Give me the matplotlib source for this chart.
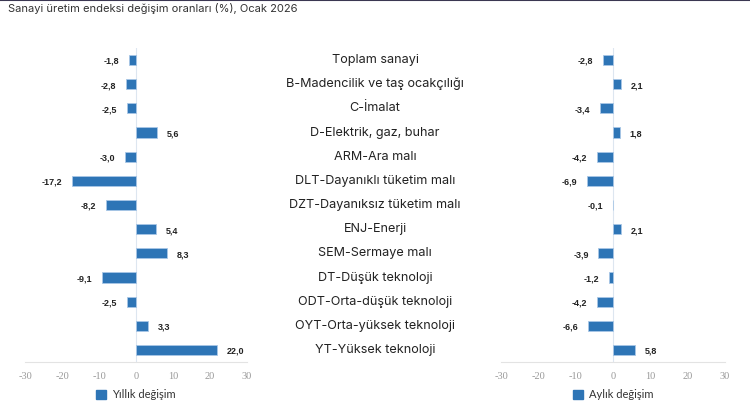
import numpy as np
import matplotlib
matplotlib.use("Agg")
import matplotlib.pyplot as plt
from matplotlib.patches import Patch
from matplotlib.lines import Line2D

kategoriler = ["Toplam sanayi", "B-Madencilik ve taş ocakçılığı", "C-İmalat",
               "D-Elektrik, gaz, buhar", "ARM-Ara malı", "DLT-Dayanıklı tüketim malı",
               "DZT-Dayanıksız tüketim malı", "ENJ-Enerji", "SEM-Sermaye malı",
               "DT-Düşük teknoloji", "ODT-Orta-düşük teknoloji",
               "OYT-Orta-yüksek teknoloji", "YT-Yüksek teknoloji"]
yillik = [-1.8, -2.8, -2.5, 5.6, -3.0, -17.2, -8.2, 5.4, 8.3, -9.1, -2.5, 3.3, 22.0]
aylik = [-2.8, 2.1, -3.4, 1.8, -4.2, -6.9, -0.1, 2.1, -3.9, -1.2, -4.2, -6.6, 5.8]
ticks = [-30, -20, -10, 0, 10, 20, 30]

MAVI = "#2e75b6"
W, H = 750, 411

fig = plt.figure(figsize=(7.5, 4.11), dpi=100)
fig.patch.set_facecolor("white")

# ust kenardaki koyu cizgi
fig.add_artist(Line2D([0, 1], [0.999, 0.999], transform=fig.transFigure,
                      color="#3b3752", lw=1.5))

fig.text(8 / W, 1 - 9 / H, "Sanayi üretim endeksi değişim oranları (%), Ocak 2026",
         fontsize=8, color="#333333", family="Inter", va="center", ha="left")


def ciz(ax, vals, etiket):
    y = np.arange(len(vals))
    ax.barh(y, vals, height=0.42, color=MAVI, edgecolor="#a9c7e6", linewidth=0.6)
    ax.set_ylim(len(vals) - 0.5, -0.5)
    ax.set_xlim(-30, 30)
    ax.set_xticks(ticks)
    ax.set_xticklabels([str(t) for t in ticks], fontsize=7.5, color="#999999",
                       family="Liberation Serif")
    ax.tick_params(axis="x", length=0, pad=7)
    ax.set_yticks([])
    for s in ["top", "left", "right"]:
        ax.spines[s].set_visible(False)
    ax.spines["bottom"].set_color("#e3e3e3")
    ax.spines["bottom"].set_linewidth(0.8)
    ax.axvline(0, color="#dde6f0", lw=0.8, zorder=0)
    for yi, v in zip(y, vals):
        txt = f"{v:.1f}".replace(".", ",")
        if v < 0:
            ax.annotate(txt, (v, yi), xytext=(-7, -1), textcoords="offset points",
                        ha="right", va="center", fontsize=6.5, fontweight="bold",
                        color="#222222", family="Liberation Sans")
        else:
            ax.annotate(txt, (v, yi), xytext=(7, -1), textcoords="offset points",
                        ha="left", va="center", fontsize=6.5, fontweight="bold",
                        color="#222222", family="Liberation Sans")
    ax.legend(handles=[Patch(facecolor=MAVI, edgecolor=MAVI, label=etiket)],
              loc="center", bbox_to_anchor=(0.5, -0.105), frameon=False,
              prop={"family": "Lato", "size": 8}, handlelength=0.9,
              handleheight=0.9, handletextpad=0.5, labelcolor="#333333")


bottom = 1 - 362 / H
height = 314 / H
ax1 = fig.add_axes([25 / W, bottom, 222 / W, height])
ax2 = fig.add_axes([501 / W, bottom, 224 / W, height])
ciz(ax1, yillik, "Yıllık değişim")
ciz(ax2, aylik, "Aylık değişim")

# kategori etiketleri ortada
for i, k in enumerate(kategoriler):
    yy = 1 - (60 + i * 24.17) / H
    fig.text(375 / W, yy, k, ha="center", va="center", fontsize=9.1,
             family="Inter", color="#222222")

fig.savefig("out.png", dpi=100)
